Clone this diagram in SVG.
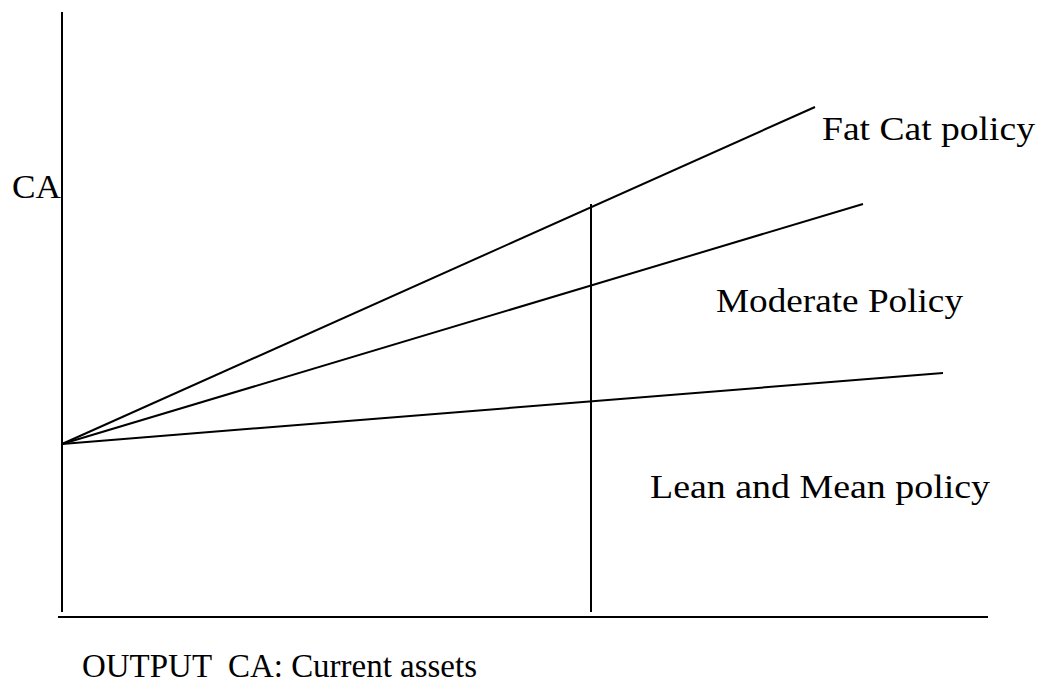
<svg xmlns="http://www.w3.org/2000/svg" width="1043" height="682" viewBox="0 0 1043 682">
<style>
.ln{stroke:#000;stroke-width:2;fill:none}
.t{font-family:"Liberation Serif","Times New Roman",serif;font-size:34px;fill:#000;white-space:pre}
</style>
<rect width="1043" height="682" fill="#fff"/>
<g id="axes">
<line class="ln" x1="62" y1="12" x2="62" y2="612"/>
<line class="ln" x1="58" y1="617" x2="988" y2="617"/>
</g>
<g id="connectors">
<line class="ln" x1="62" y1="444" x2="815" y2="107"/>
<line class="ln" x1="62" y1="444" x2="863" y2="204"/>
<line class="ln" x1="62" y1="444" x2="943" y2="373"/>
<line class="ln" x1="591" y1="204" x2="591" y2="612"/>
</g>
<g id="label-ca"><text class="t" x="12" y="198" textLength="49" lengthAdjust="spacingAndGlyphs">CA</text></g>
<g id="label-fatcat"><text class="t" x="822" y="140" textLength="213" lengthAdjust="spacingAndGlyphs">Fat Cat policy</text></g>
<g id="label-moderate"><text class="t" x="716" y="312" textLength="247" lengthAdjust="spacingAndGlyphs">Moderate Policy</text></g>
<g id="label-lean"><text class="t" x="650" y="498" textLength="340" lengthAdjust="spacingAndGlyphs">Lean and Mean policy</text></g>
<g id="label-output"><text class="t" x="82" y="677" textLength="395" lengthAdjust="spacingAndGlyphs">OUTPUT  CA: Current assets</text></g>
</svg>
